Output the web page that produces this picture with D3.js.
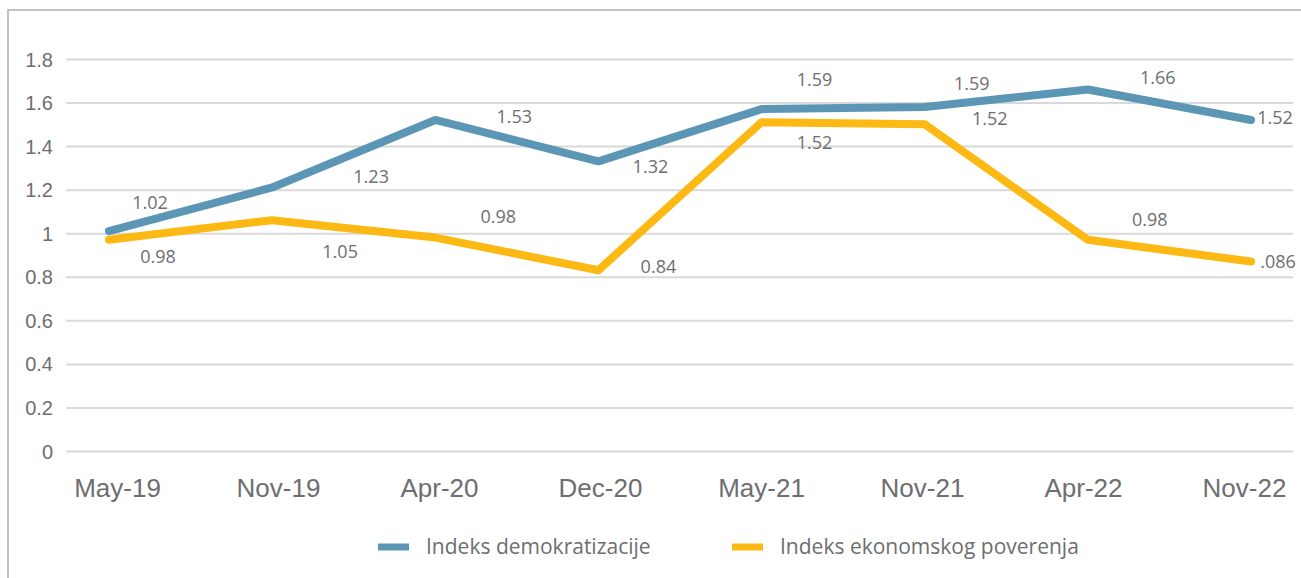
<!DOCTYPE html>
<html>
<head>
<meta charset="utf-8">
<script src="https://cdn.jsdelivr.net/npm/d3@7"></script>
<style>
  html, body { margin: 0; padding: 0; background: #fff; }
  svg { display: block; font-family: "Open Sans", sans-serif; }
  .axis text { fill: #6d6e71; }
</style>
</head>
<body>
<svg id="chart" width="1301" height="578"></svg>
<script>
// data
var categories = ['May-19', 'Nov-19', 'Apr-20', 'Dec-20', 'May-21', 'Nov-21', 'Apr-22', 'Nov-22'];
var demokratizacija = [1.01, 1.21, 1.52, 1.33, 1.57, 1.58, 1.66, 1.52];
var ekonomskoPoverenje = [0.97, 1.06, 0.98, 0.83, 1.51, 1.50, 0.97, 0.87];
var demokratizacijaLabels = ['1.02', '1.23', '1.53', '1.32', '1.59', '1.59', '1.66', '1.52'];
var ekonomskoLabels = ['0.98', '1.05', '0.98', '0.84', '1.52', '1.52', '0.98', '.086'];
var yTicks = [0, 0.2, 0.4, 0.6, 0.8, 1, 1.2, 1.4, 1.6, 1.8];
var yTickLabels = ['0', '0.2', '0.4', '0.6', '0.8', '1', '1.2', '1.4', '1.6', '1.8'];
var seriesNames = ['Indeks demokratizacije', 'Indeks ekonomskog poverenja'];

// layout
var W = 1301, H = 578;
var plot = { left: 66, right: 1293, top: 59, bottom: 451 };
var colors = ['#5b96b5', '#fdb913'];
var textColor = '#6d6e71';
// manual label nudges (px) relative to the point, as in the original
var demoOffsets = [[41, -22], [99, -4], [79, 3], [52, 12], [53, -23], [47, -17], [70, -5], [24, 4]];
var ekoOffsets = [[49, 23], [68, 38], [63, -15], [60, 3], [53, 27], [65, 1], [62, -14], [27, 6]];

var svg = d3.select('#chart');

// frame (left + top edge only)
svg.append('path')
    .attr('d', `M8,${H} L8,10 L${W},10`)
    .attr('fill', 'none')
    .attr('stroke', '#c3c3c6')
    .attr('stroke-width', 2);

var x = d3.scalePoint().domain(categories).range([109, 1251]);
var xLab = d3.scalePoint().domain(categories).range([117, 1244]);
var y = d3.scaleLinear().domain([0, 1.8]).range([plot.bottom, plot.top]);

// y axis with gridlines
var yAxis = d3.axisLeft(y)
    .tickValues(yTicks)
    .tickFormat((d, i) => yTickLabels[i])
    .tickSize(-(plot.right - plot.left))
    .tickPadding(13);

var gy = svg.append('g')
    .attr('class', 'axis')
    .attr('transform', `translate(${plot.left},0)`)
    .call(yAxis);
gy.select('.domain').remove();
gy.selectAll('line').attr('stroke', '#d9d9d9').attr('stroke-width', 2);
gy.selectAll('text').attr('font-size', 20).attr('dy', '0.35em');

// x axis labels
var xAxis = d3.axisBottom(xLab).tickSize(0).tickPadding(0);
var gx = svg.append('g')
    .attr('class', 'axis')
    .attr('transform', `translate(0,${plot.bottom})`)
    .call(xAxis);
gx.select('.domain').remove();
gx.selectAll('text').attr('font-size', 26).attr('y', 46).attr('dy', 0);

// lines
var series = [
    { name: seriesNames[0], values: demokratizacija, labels: demokratizacijaLabels, offsets: demoOffsets, color: colors[0] },
    { name: seriesNames[1], values: ekonomskoPoverenje, labels: ekonomskoLabels, offsets: ekoOffsets, color: colors[1] }
];

var line = d3.line()
    .x((d, i) => x(categories[i]))
    .y(d => y(d));

// yellow drawn under blue? original shows blue on top
series.slice().reverse().forEach(function(s){
    svg.append('path')
        .datum(s.values)
        .attr('d', line)
        .attr('fill', 'none')
        .attr('stroke', s.color)
        .attr('stroke-width', 8)
        .attr('stroke-linejoin', 'round')
        .attr('stroke-linecap', 'round');
});

// data labels
series.forEach(function(s){
    svg.append('g')
        .selectAll('text')
        .data(s.values)
        .join('text')
        .attr('x', (d, i) => x(categories[i]) + s.offsets[i][0])
        .attr('y', (d, i) => y(d) + s.offsets[i][1])
        .attr('text-anchor', 'middle')
        .attr('font-size', 18)
        .attr('fill', textColor)
        .text((d, i) => s.labels[i]);
});

// legend
var legendPos = [378, 732];
var legend = svg.append('g')
    .selectAll('g')
    .data(series)
    .join('g')
    .attr('transform', (d, i) => `translate(${legendPos[i]},547)`);
legend.append('rect')
    .attr('x', 0).attr('y', -3.5)
    .attr('width', 31).attr('height', 7)
    .attr('fill', d => d.color);
legend.append('text')
    .attr('x', 48).attr('y', 7)
    .attr('font-size', 21)
    .attr('fill', textColor)
    .text(d => d.name);
</script>
</body>
</html>
